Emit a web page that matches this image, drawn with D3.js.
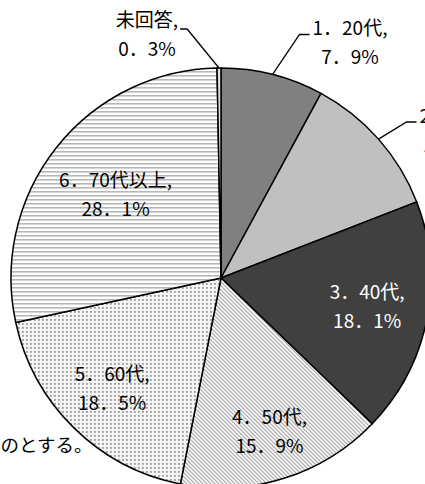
<!DOCTYPE html>
<html>
<head>
<meta charset="utf-8">
<script src="https://cdn.jsdelivr.net/npm/d3@7"></script>
<style>
html,body{margin:0;padding:0;background:#fff;}
svg{display:block;}
text{font-family:"Noto Sans CJK JP","Noto Sans",sans-serif;}
</style>
</head>
<body>
<svg id="chart" width="425" height="484"></svg>
<script>
// ---- data ----
const categories = ["1．20代", "2．30代", "3．40代", "4．50代", "5．60代", "6．70代以上", "未回答"];
const values = [7.9, 11.2, 18.1, 15.9, 18.5, 28.1, 0.3];
const note = "ものとする。";

// ---- layout / style ----
const W = 425, H = 484;
const cx = 221, cy = 278, R = 210;
const fills = ["#808080", "#c0c0c0", "#404040", "url(#diag)", "url(#dots)", "url(#hstripe)", "url(#sliver)"];
const textColors = ["#000", "#000", "#fff", "#000", "#000", "#000", "#000"];
// inside labels: radius factor along the slice mid-angle; outer labels: fixed anchor positions
const labelMode = ["out", "out", "in", "in", "in", "in", "out"];
const labelRadius = [0, 0, 0.71, 0.77, 0.74, 0.64, 0];
const outerAnchor = {0: [350, 43, "right"], 1: [457, 130.5, "right"], 6: [147, 34.5, "left"]};
const fontSize = 19, lineGap = 29;

const svg = d3.select("#chart");
const defs = svg.append("defs");

// patterns
const ph = defs.append("pattern").attr("id", "hstripe").attr("patternUnits", "userSpaceOnUse")
  .attr("width", 4).attr("height", 4);
ph.append("rect").attr("width", 4).attr("height", 4).attr("fill", "#fff");
ph.append("rect").attr("y", 1).attr("width", 4).attr("height", 1.6).attr("fill", "#b8b8b8");

const pd = defs.append("pattern").attr("id", "dots").attr("patternUnits", "userSpaceOnUse")
  .attr("width", 4).attr("height", 4);
pd.append("rect").attr("width", 4).attr("height", 4).attr("fill", "#f4f4f4");
pd.append("rect").attr("x", 1).attr("y", 1).attr("width", 1.8).attr("height", 1.8).attr("fill", "#9a9a9a");

const pg = defs.append("pattern").attr("id", "diag").attr("patternUnits", "userSpaceOnUse")
  .attr("width", 4).attr("height", 4);
pg.append("rect").attr("width", 4).attr("height", 4).attr("fill", "#fcfcfc");
pg.append("path").attr("d", "M-1,-1L5,5M-1,3L1,5M3,-1L5,1")
  .attr("stroke", "#a8a8a8").attr("stroke-width", 1.2);

const ps = defs.append("pattern").attr("id", "sliver").attr("patternUnits", "userSpaceOnUse")
  .attr("width", 4).attr("height", 4);
ps.append("rect").attr("width", 4).attr("height", 4).attr("fill", "#e0e0e0");

svg.append("rect").attr("width", W).attr("height", H).attr("fill", "#fff");

// background note text (partially off-canvas)
svg.append("text").attr("x", -18).attr("y", 452)
  .attr("font-size", 18.5).attr("fill", "#000").text(note);

const pie = d3.pie().sort(null).startAngle(0).endAngle(2 * Math.PI).value(d => d);
const arcs = pie(values);
const arc = d3.arc().innerRadius(0).outerRadius(R);

const g = svg.append("g").attr("transform", `translate(${cx},${cy})`);
g.selectAll("path.slice").data(arcs).join("path")
  .attr("class", "slice")
  .attr("d", arc)
  .attr("fill", (d, i) => fills[i])
  .attr("stroke", "#000")
  .attr("stroke-width", 1.5)
  .attr("stroke-linejoin", "round");

const fmt = v => String(v.toFixed(1)).replace(".", "．") + "%";

function drawLabel(x, y, i) {
  const t = svg.append("text")
    .attr("x", x).attr("y", y)
    .attr("text-anchor", "middle")
    .attr("font-size", fontSize)
    .attr("fill", textColors[i]);
  t.append("tspan").attr("x", x).attr("y", y - lineGap / 2).attr("dy", "0.35em").text(categories[i] + ",");
  t.append("tspan").attr("x", x).attr("y", y + lineGap / 2).attr("dy", "0.35em").text(fmt(values[i]));
  return t;
}

arcs.forEach((d, i) => {
  if (labelMode[i] === "in") {
    const rr = R * labelRadius[i];
    const c = d3.arc().innerRadius(rr).outerRadius(rr).centroid(d);
    drawLabel(cx + c[0], cy + c[1], i);
  } else {
    const [lx, ly, side] = outerAnchor[i];
    const t = drawLabel(lx, ly, i);
    const first = t.select("tspan").node();
    const bb = first.getBBox();
    const p = d3.arc().innerRadius(R).outerRadius(R).centroid(d);
    const start = [cx + p[0], cy + p[1]];
    let yLine, elbow, end;
    if (side === "right") {
      yLine = ly - lineGap / 2 + 6;
      end = [bb.x - 3, yLine];
      elbow = [bb.x - 13, yLine];
    } else {
      yLine = ly - lineGap / 2 + 9;
      end = [bb.x + bb.width + 2, yLine];
      elbow = [bb.x + bb.width + 9, yLine];
    }
    svg.append("path")
      .attr("d", d3.line()([start, elbow, end]))
      .attr("fill", "none").attr("stroke", "#000").attr("stroke-width", 1.3);
  }
});
</script>
</body>
</html>
